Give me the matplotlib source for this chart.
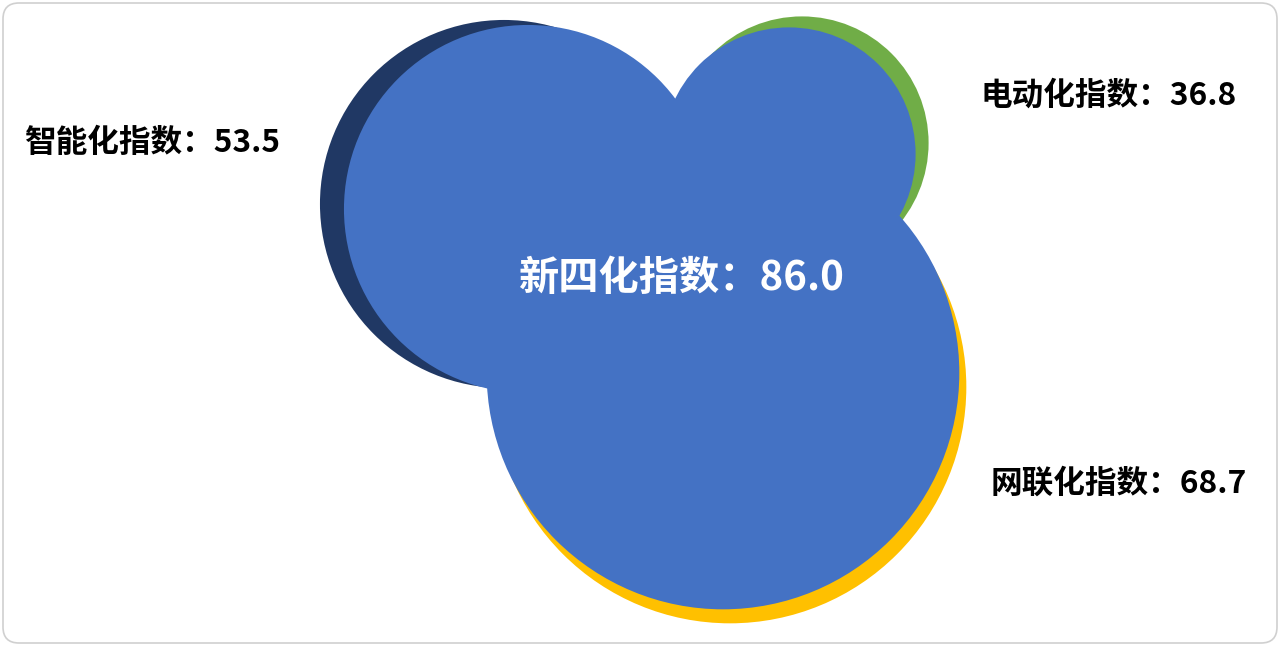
import matplotlib
matplotlib.use("Agg")
import matplotlib.pyplot as plt
from matplotlib.patches import Circle, FancyBboxPatch

plt.rcParams['font.family'] = ['Noto Sans CJK SC', 'DejaVu Sans']

# Data
categories = ["智能化指数", "电动化指数", "网联化指数"]
values = [53.5, 36.8, 68.7]
total_label = "新四化指数"
total_value = 86.0

# Layout (pixel coordinates, y downward)
scale = 3.44
centers = [(528, 209), (789, 154), (723, 373)]
shadow_offsets = [(-24, -5), (13, -11), (7, 14)]
shadow_colors = ["#203864", "#70AD47", "#FFC000"]
main_color = "#4472C4"
label_pos = [(24, 143, 'left'), (981, 96, 'left'), (991, 484, 'left')]

fig = plt.figure(figsize=(12.8, 6.46), dpi=100)
ax = fig.add_axes([0, 0, 1, 1])
ax.set_xlim(0, 1280)
ax.set_ylim(646, 0)
ax.set_aspect('equal')
ax.axis('off')

border = FancyBboxPatch((3, 3), 1274, 640, boxstyle="round,pad=0,rounding_size=16",
                        fc='white', ec='#D0D0D0', lw=1.2, zorder=0)
ax.add_patch(border)

for (cx, cy), (dx, dy), col, v in zip(centers, shadow_offsets, shadow_colors, values):
    ax.add_patch(Circle((cx + dx, cy + dy), v * scale, fc=col, ec='none', zorder=1))
for (cx, cy), v in zip(centers, values):
    ax.add_patch(Circle((cx, cy), v * scale, fc=main_color, ec='none', zorder=2))

for (x, y, ha), cat, v in zip(label_pos, categories, values):
    ax.text(x, y, f"{cat}：{v:.1f}", ha=ha, va='center', fontsize=22.8,
            fontweight='bold', color='black', zorder=3)

ax.text(682, 278, f"{total_label}：{total_value:.1f}", ha='center', va='center',
        fontsize=29, fontweight='bold', color='white', zorder=4)

fig.savefig("out.png", dpi=100)
